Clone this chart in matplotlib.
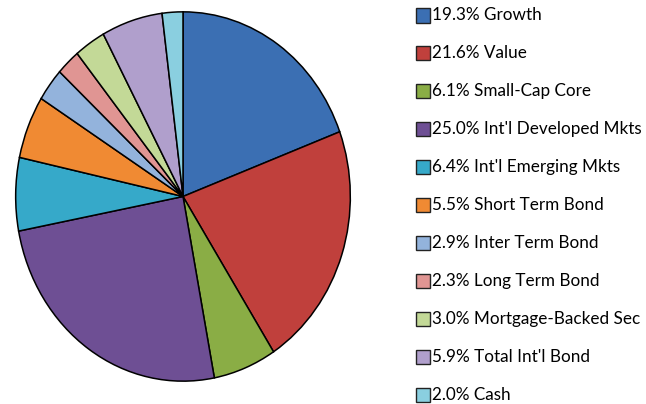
import matplotlib.pyplot as plt
from matplotlib.patches import Rectangle

# allocation data
labels = ['Growth', 'Value', 'Small-Cap Core', "Int'l Developed Mkts",
          "Int'l Emerging Mkts", 'Short Term Bond', 'Inter Term Bond',
          'Long Term Bond', 'Mortgage-Backed Sec', "Total Int'l Bond", 'Cash']
values = [19.3, 21.6, 6.1, 25.0, 6.4, 5.5, 2.9, 2.3, 3.0, 5.9, 2.0]
colors = ['#3b6fb3', '#c0403c', '#8aad45', '#6e4f94', '#36a9c9', '#f08a33',
          '#93b3dc', '#e09593', '#c3d997', '#b09fcc', '#8acfe0']

W, H = 646, 404
fig = plt.figure(figsize=(W / 100, H / 100), dpi=100)

# pie axes (slightly elliptical like the original)
ax = fig.add_axes([14 / W, (H - 383) / H, 338 / W, 373 / H])
ax.pie(values, colors=colors, startangle=90, counterclock=False,
       wedgeprops=dict(edgecolor='black', linewidth=1.1))
ax.set_aspect('auto')
ax.set_xlim(-1.01, 1.01)
ax.set_ylim(-1.01, 1.01)
ax.axis('off')

# legend drawn by hand
y0, step = 15.5, 37.9
for i, (lab, val, col) in enumerate(zip(labels, values, colors)):
    yc = y0 + i * step
    fig.patches.append(Rectangle((416 / W, (H - yc - 7) / H), 14 / W, 14 / H,
                                 transform=fig.transFigure, facecolor=col,
                                 edgecolor='#222222', linewidth=1.0))
    fig.text(432 / W, (H - yc) / H, f'{val:.1f}% {lab}', fontsize=12.3,
             family='Lato', va='center', ha='left', color='black')

fig.savefig('out.png', dpi=100)
